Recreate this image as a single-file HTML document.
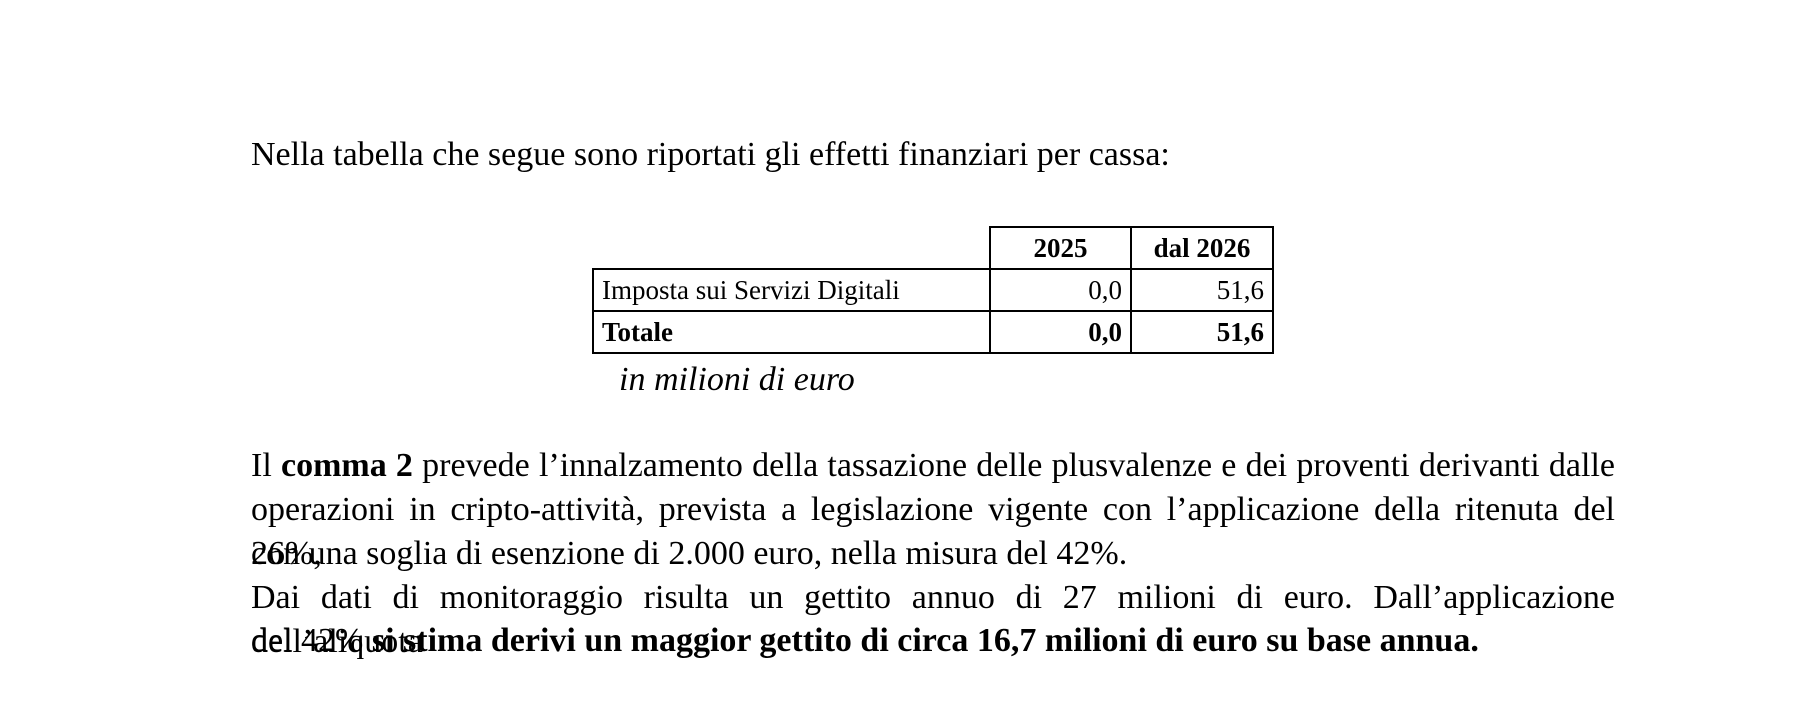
<!DOCTYPE html>
<html><head><meta charset="utf-8"><style>
body{margin:0;width:1805px;height:713px;background:#fff;position:relative;overflow:hidden;font-family:"Liberation Serif",serif;color:#000}
.l{position:absolute;left:251px;font-size:34px;line-height:44px;white-space:nowrap}
.j{width:1364px;text-align:justify;text-align-last:justify;white-space:normal}
table{position:absolute;left:592px;top:226px;border-collapse:collapse;font-size:27px;table-layout:fixed;width:680px}
td{border:2px solid #000;height:40px;padding:0 8px;white-space:nowrap;overflow:hidden}
</style></head><body>
<div class="l" style="top:133px">Nella tabella che segue sono riportati gli effetti finanziari per cassa:</div>
<table>
<colgroup><col style="width:397px"><col style="width:141px"><col style="width:142px"></colgroup>
<tr><td style="border:none;border-right:2px solid #000"></td><td style="text-align:center;font-weight:bold">2025</td><td style="text-align:center;font-weight:bold">dal 2026</td></tr>
<tr><td>Imposta sui Servizi Digitali</td><td style="text-align:right">0,0</td><td style="text-align:right">51,6</td></tr>
<tr style="font-weight:bold"><td>Totale</td><td style="text-align:right">0,0</td><td style="text-align:right">51,6</td></tr>
</table>
<div class="l" style="left:619px;top:358px;font-style:italic">in milioni di euro</div>
<div class="l j" style="top:444px">Il <b>comma 2</b> prevede l’innalzamento della tassazione delle plusvalenze e dei proventi derivanti dalle</div>
<div class="l j" style="top:488px">operazioni in cripto-attività, prevista a legislazione vigente con l’applicazione della ritenuta del 26%,</div>
<div class="l" style="top:532px">con una soglia di esenzione di 2.000 euro, nella misura del 42%.</div>
<div class="l j" style="top:576px">Dai dati di monitoraggio risulta un gettito annuo di 27 milioni di euro. Dall’applicazione dell’aliquota</div>
<div class="l" style="top:619px">del 42% <b>si stima derivi un maggior gettito di circa 16,7 milioni di euro su base annua.</b></div>
</body></html>
